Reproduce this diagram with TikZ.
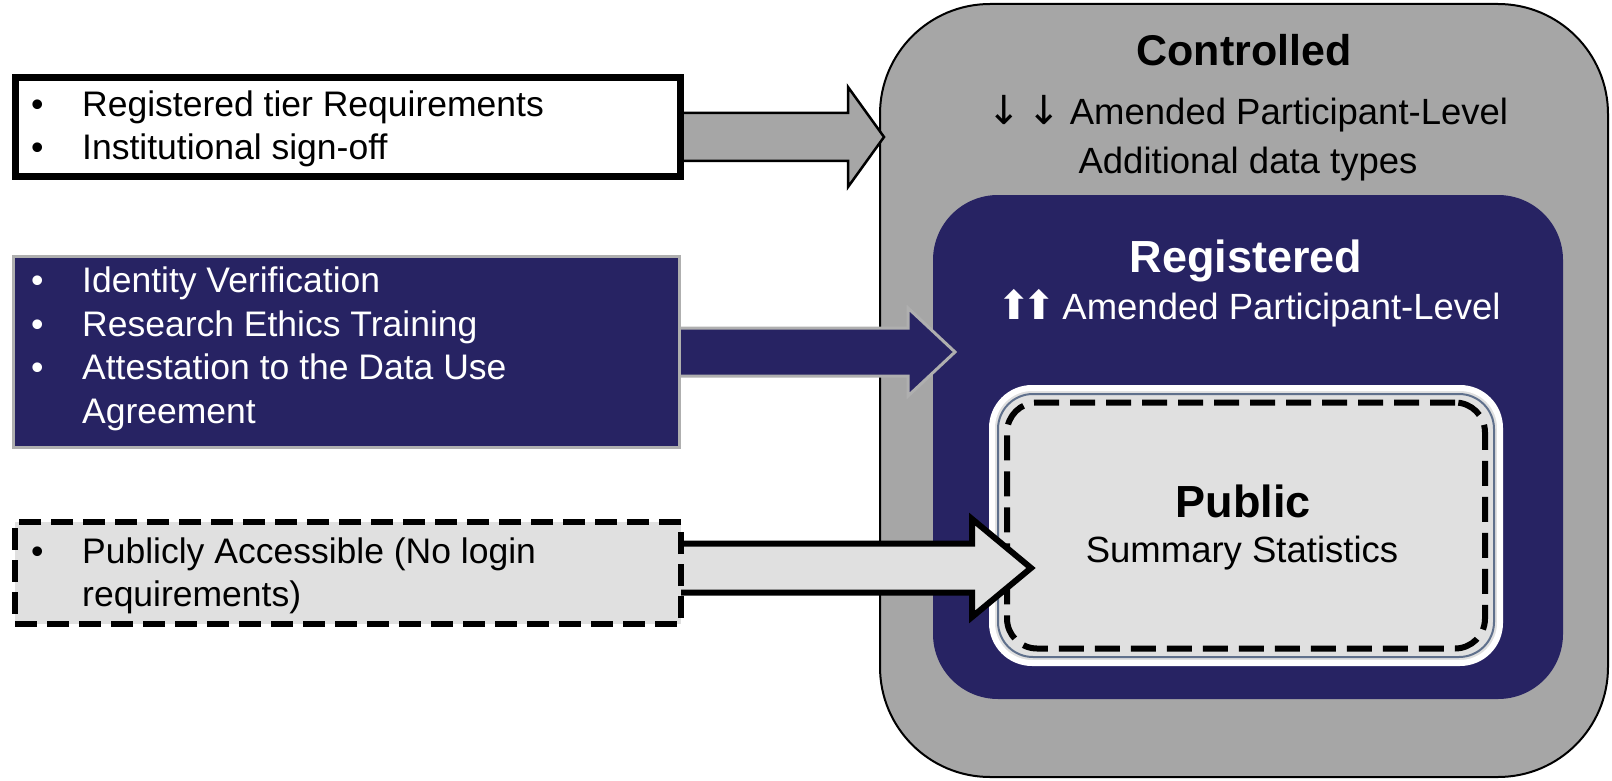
\documentclass[tikz,border=0pt]{standalone}
\usepackage{fontspec}
\setmainfont{Liberation Sans}
\newfontfamily\djv{DejaVu Sans}
\usetikzlibrary{calc}
\definecolor{ctrlgray}{RGB}{166,166,166}
\definecolor{navy}{RGB}{39,35,99}
\definecolor{pubgray}{RGB}{224,224,224}
\definecolor{edgegray}{RGB}{175,175,175}
\definecolor{slate}{RGB}{95,112,140}
\pgfdeclarelayer{back}
\pgfdeclarelayer{mid}
\pgfsetlayers{back,mid,main}
\newcommand{\itm}[1]{\makebox[51pt][l]{\textbullet}#1}
\begin{document}
\begin{tikzpicture}[x=1pt,y=-1pt,
  box/.style={rectangle,inner sep=0pt,outer sep=0pt},
  reqbox/.style={box,fill=white,draw=black,line width=7pt},
  regbox/.style={box,fill=navy,draw=edgegray,line width=3pt},
  pubbox/.style={box,fill=pubgray,draw=black,line width=6pt,dash pattern=on 22pt off 10pt},
  listtxt/.style={inner sep=0pt,align=left,anchor=west,font=\fontsize{35.5}{43.5}\selectfont},
  title/.style={inner sep=0pt,font=\fontsize{43}{50}\selectfont\bfseries},
  sub/.style={inner sep=0pt,align=center,font=\fontsize{36.5}{49}\selectfont},
  arrowA/.style={fill=ctrlgray,draw=black,line width=2.5pt,line join=miter},
  arrowB/.style={fill=navy,draw=edgegray,line width=3pt,line join=miter},
  arrowC/.style={fill=pubgray,draw=black,line width=6pt,line join=miter},
]
\useasboundingbox (0,0) rectangle (1612,781);

\begin{pgfonlayer}{back}
\node[box,fill=ctrlgray,draw=black,line width=2pt,rounded corners=110pt,
  minimum width=728pt,minimum height=773pt] (ctrl) at (1244,390.5) {};
\node[box,fill=navy,rounded corners=65pt,minimum width=630pt,minimum height=504pt] (reg) at (1248,447) {};
\node[box,fill=pubgray,draw=white,line width=6pt,rounded corners=40pt,
  minimum width=508pt,minimum height=275pt] (pubout) at (1246,525.5) {};
\node[box,draw=slate,line width=2pt,rounded corners=35pt,
  minimum width=496pt,minimum height=263pt] (pubmid) at (1246,525.5) {};
\node[box,draw=black,line width=6pt,dash pattern=on 25pt off 11pt,rounded corners=30pt,
  minimum width=478pt,minimum height=246pt] (pubin) at (1246,525.5) {};
\node[title] (ctrlT) at (1244,50) {Controlled};
\node[sub] (ctrlS) at (1248,138) {{\djv\fontsize{40}{40}\selectfont ↓\hspace{6pt}↓}\hspace{9pt}Amended Participant-Level\\Additional data types};
\node[title,text=white,font=\fontsize{45}{50}\selectfont\bfseries] (regT) at (1246,261) {Registered};
\node[sub,text=white] (regS) at (1249,308) {{\djv\fontsize{40}{40}\selectfont ⬆\kern-8pt⬆}\,Amended Participant-Level};
\node[title,font=\fontsize{45}{50}\selectfont\bfseries] (pubT) at (1243,501) {Public};
\node[sub] (pubS) at (1242,553) {Summary Statistics};
\end{pgfonlayer}

\node[reqbox,minimum width=665pt,minimum height=99pt] (req) at (348,127) {};
\node[regbox,minimum width=666pt,minimum height=191pt] (regreq) at (346.5,352) {};
\node[pubbox,minimum width=666pt,minimum height=102pt] (pubreq) at (348,573) {};

\node[listtxt] (reqT) at (31,129) {\itm{Registered tier Requirements}\\\itm{Institutional sign-off}};
\node[listtxt,text=white] (regreqT) at (31,349) {\itm{Identity Verification}\\\itm{Research Ethics Training}\\\itm{Attestation to the Data Use}\\\makebox[51pt]{}Agreement};
\node[listtxt] (pubreqT) at (31,576) {\itm{Publicly Accessible (No login}\\\makebox[51pt]{}requirements)};

\begin{pgfonlayer}{mid}
\coordinate (tip1) at (884,137);
\coordinate (tip2) at (955,352);
\coordinate (tip3) at (1031,568);
\draw[arrowA] let \p1=(tip1), \p2=(req.center) in
  (\x2,\y1+24) -- (\x1-36,\y1+24) -- (\x1-36,\y1+50) -- (\x1,\y1) --
  (\x1-36,\y1-50) -- (\x1-36,\y1-24) -- (\x2,\y1-24) -- cycle;
\draw[arrowB] let \p1=(tip2), \p2=(regreq.center) in
  (\x2,\y1+24) -- (\x1-47,\y1+24) -- (\x1-47,\y1+44) -- (\x1,\y1) --
  (\x1-47,\y1-44) -- (\x1-47,\y1-24) -- (\x2,\y1-24) -- cycle;
\draw[arrowC] let \p1=(tip3), \p2=(pubreq.center) in
  (\x2,\y1+24.5) -- (\x1-59,\y1+24.5) -- (\x1-59,\y1+49) -- (\x1,\y1) --
  (\x1-59,\y1-49) -- (\x1-59,\y1-24.5) -- (\x2,\y1-24.5) -- cycle;
\end{pgfonlayer}
\end{tikzpicture}
\end{document}
